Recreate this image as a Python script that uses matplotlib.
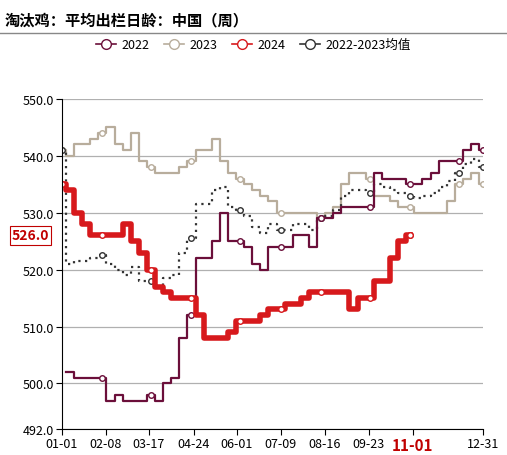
import matplotlib.pyplot as plt
import numpy as np

plt.rcParams['font.family'] = ['Noto Sans CJK SC', 'DejaVu Sans']

# 周度数据 (第 i 周, i=0 为 01-01)
v2022 = [np.nan, 502, 501, 501, 501, 501, 497, 498, 497, 497, 497, 498, 497, 500, 501, 508,
         512, 522, 522, 525, 530, 525, 525, 524, 521, 520, 524, 524, 524, 526, 526, 524,
         529, 529, 530, 531, 531, 531, 531, 537, 536, 536, 536, 535, 535, 536, 537, 539,
         539, 539, 541, 542, 541]
v2023 = [541, 540, 542, 542, 543, 544, 545, 542, 541, 544, 539, 538, 537, 537, 537, 538,
         539, 541, 541, 543, 539, 537, 536, 535, 534, 533, 532, 530, 530, 530, 530, 530,
         529, 530, 531, 535, 537, 537, 536, 533, 533, 532, 531, 531, 530, 530, 530, 530,
         532, 535, 536, 537, 535]
v2024 = [535, 534, 530, 528, 526, 526, 526, 526, 528, 525, 523, 520, 517, 516, 515, 515,
         515, 512, 508, 508, 508, 509, 511, 511, 511, 512, 513, 513, 514, 514, 515, 516,
         516, 516, 516, 516, 513, 515, 515, 518, 518, 522, 525, 526]
tick_days = [0, 38, 75, 114, 151, 189, 227, 265, 303, 364]
tick_labels = ['01-01', '02-08', '03-17', '04-24', '06-01', '07-09', '08-16', '09-23',
               '11-01', '12-31']
mark_days = [0, 38, 75, 114, 151, 189, 227, 265, 303, 342, 364]

a22 = np.array(v2022, dtype=float)
a23 = np.array(v2023, dtype=float)
a24 = np.array(v2024, dtype=float)
avg = np.where(np.isnan(a22), a23, (a22 + a23) / 2)
days = np.arange(len(a22)) * 7
days24 = np.arange(len(a24)) * 7


def mark_idx(n):
    idx = sorted(set(min(int(round(t / 7)), n - 1) for t in mark_days if t / 7 <= n - 0.5))
    return idx


fig = plt.figure(figsize=(5.07, 4.56), dpi=100)
ax = fig.add_axes([0.122, 0.057, 0.831, 0.724])

ax.plot(days, a23, color='#b8ad9c', lw=1.6, drawstyle='steps-mid', marker='o', ms=4,
        mfc='white', markevery=mark_idx(len(a23)), label='2023')
ax.plot(days, avg, color='#333333', lw=1.6, ls=(0, (1, 2)), drawstyle='steps-mid', marker='o', ms=4,
        mfc='white', markevery=mark_idx(len(avg)), label='2022-2023均值')
ax.plot(days, a22, color='#6b0f3a', lw=1.6, drawstyle='steps-mid', marker='o', ms=4,
        mfc='white', markevery=mark_idx(len(a22))[1:], label='2022')
ax.plot(days24, a24, color='#d7191c', lw=4, drawstyle='steps-mid', marker='o', ms=4,
        mfc='white', markevery=mark_idx(len(a24)) + [len(a24) - 1], label='2024')

ax.set_xlim(0, 364)
ax.set_ylim(492, 550)
ax.set_yticks([492, 500, 510, 520, 530, 540, 550])
ax.set_yticklabels([f'{v:.1f}' for v in [492, 500, 510, 520, 530, 540, 550]], fontsize=9)
ax.set_xticks(tick_days)
ax.set_xticklabels(tick_labels, fontsize=9)
for lab in ax.get_xticklabels():
    if lab.get_text() == '11-01':
        lab.set_color('#c00000')
        lab.set_fontweight('bold')
        lab.set_fontsize(11)
ax.grid(axis='y', color='#b0b0b0', lw=0.9)
ax.set_axisbelow(True)
for s in ['top', 'right']:
    ax.spines[s].set_visible(False)
ax.tick_params(length=4, pad=2)

# 当前值标签
ax.text(-0.03, 526, '526.0', transform=ax.get_yaxis_transform(), ha='right', va='center',
        fontsize=10, fontweight='bold', color='#c00000',
        bbox=dict(boxstyle='square,pad=0.15', fc='white', ec='#c00000', lw=0.8))

fig.text(0.01, 0.955, '淘汰鸡：平均出栏日龄：中国（周）', fontsize=11, fontweight='bold', va='center')
fig.add_artist(plt.Line2D([0, 1], [0.925, 0.925], color='#888888', lw=1))

h, l = ax.get_legend_handles_labels()
order = ['2022', '2023', '2024', '2022-2023均值']
hd = dict(zip(l, h))
leg = fig.legend([hd[k] for k in order], order, loc='center', bbox_to_anchor=(0.5, 0.9), ncol=4,
                 frameon=False, fontsize=9, handlelength=1.6, handletextpad=0.4, columnspacing=1.2)
for line in leg.get_lines():
    line.set_linewidth(1.2)
    line.set_linestyle('-')
    line.set_markersize(7)

fig.savefig('out.png', dpi=100)
